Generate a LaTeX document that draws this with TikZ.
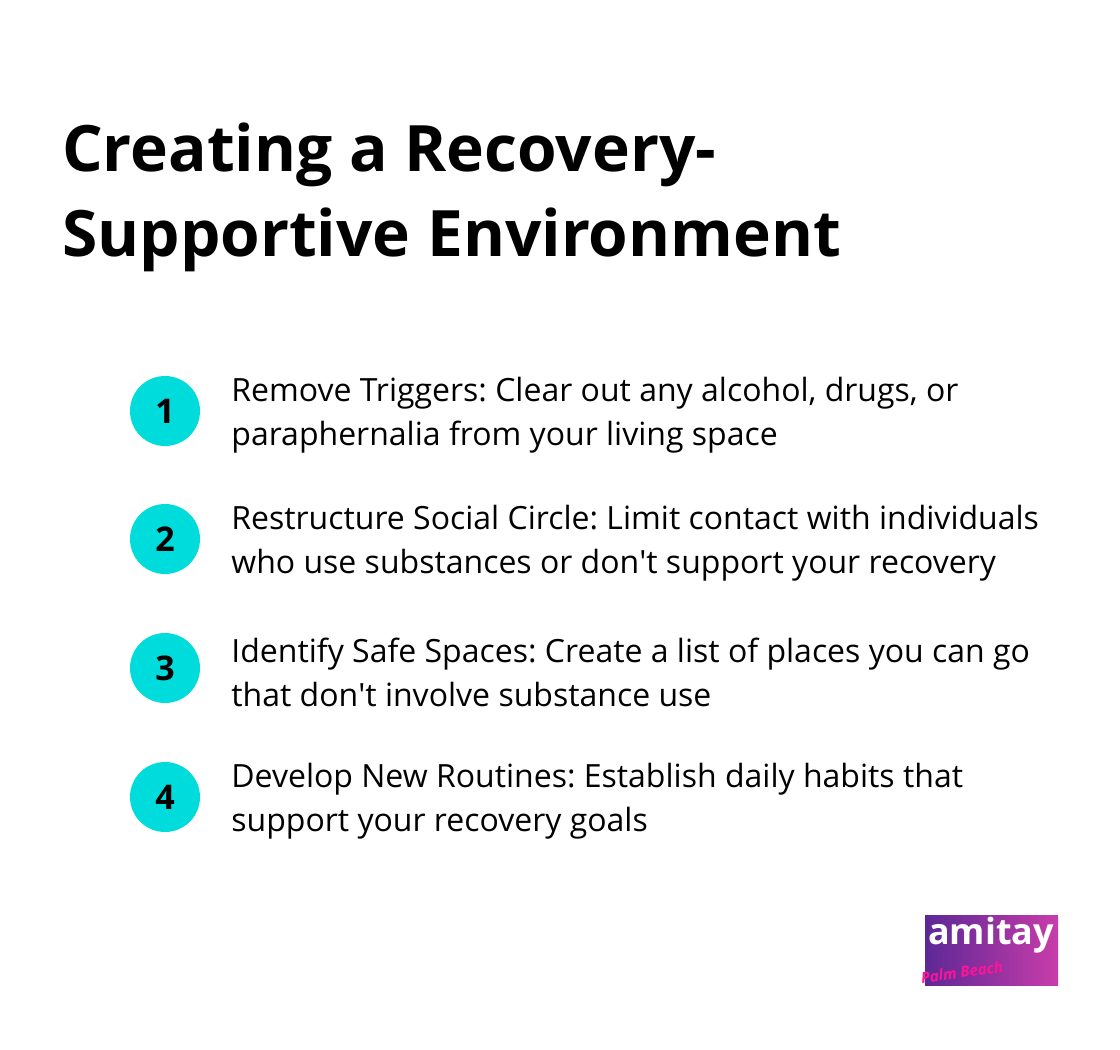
\documentclass[tikz,border=0pt]{standalone}
\usepackage{fontspec}
\setmainfont{Open Sans}
\usetikzlibrary{positioning}
\definecolor{stepcyan}{RGB}{0,219,219}
\definecolor{logopurple}{RGB}{92,40,150}
\definecolor{logomagenta}{RGB}{200,60,170}
\definecolor{logopink}{RGB}{255,20,150}
\begin{document}
\frenchspacing
\begin{tikzpicture}[x=1pt,y=-1pt]

    \tikzset{
      TitleStyle/.style = { anchor = base west, inner sep = 0pt,
                            font = \fontsize{64}{85}\selectfont\bfseries },
      NumStyle/.style = { circle, fill = stepcyan, minimum size = 70pt,
                          inner sep = 0pt, font = \fontsize{34}{34}\selectfont\bfseries },
      ItemStyle/.style = { align = left, inner sep = 0pt, yshift = -4pt,
                           font = \fontsize{32}{44}\selectfont } }

      \useasboundingbox (0,0) rectangle (1120,1050);

      \node[TitleStyle] (title1) at (62,171) {Creating a Recovery-};
      \node[TitleStyle] (title2) at (62,256) {Supportive Environment};

      \node[NumStyle] (n1) at (165,411) {1};
      \node[NumStyle] (n2) at (165,539) {2};
      \node[NumStyle] (n3) at (165,668) {3};
      \node[NumStyle] (n4) at (165,797) {4};

      \node[ItemStyle, right=31pt of n1] (t1) {Remove Triggers: Clear out any alcohol, drugs, or\\paraphernalia from your living space};
      \node[ItemStyle, right=31pt of n2] (t2) {Restructure Social Circle: Limit contact with individuals\\who use substances or don\textquotesingle t support your recovery};
      \node[ItemStyle, right=31pt of n3] (t3) {Identify Safe Spaces: Create a list of places you can go\\that don\textquotesingle t involve substance use};
      \node[ItemStyle, right=31pt of n4] (t4) {Develop New Routines: Establish daily habits that\\support your recovery goals};

      % logo
      \shade[left color=logopurple, right color=logomagenta] (925,915) rectangle (1058,985);
      \node[white, font=\fontsize{36}{36}\selectfont\bfseries] (amitay) at (991,935) {amitay};
      \node[logopink, font=\fontsize{15}{15}\selectfont\bfseries\itshape, rotate=8] (palm) at (962,972) {Palm Beach};
    \end{tikzpicture}
\end{document}
